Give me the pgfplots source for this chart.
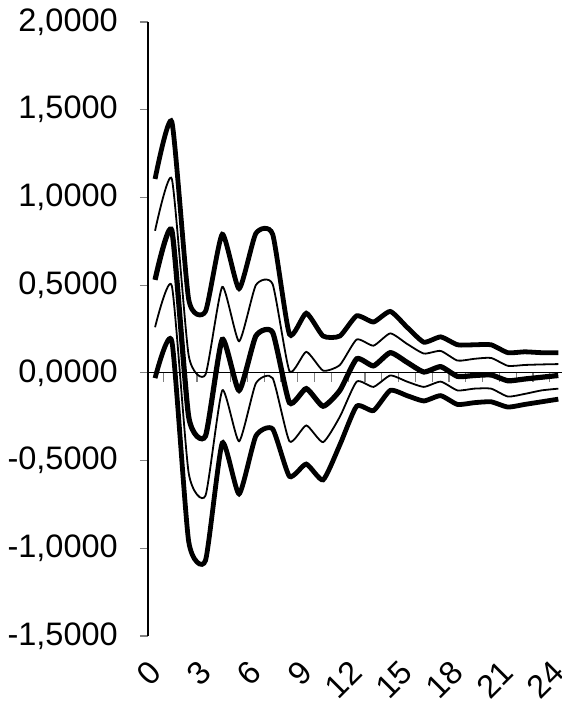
\documentclass[border=0pt]{standalone}
\usepackage{fontspec}
\setmainfont{Liberation Sans}
\usepackage{pgfplots}
\pgfplotsset{compat=1.18}
\pgfplotstableread{
k u2 u1 c l1 l2
0 1.105 0.81 0.53 0.26 -0.03
1 1.43 1.105 0.81 0.495 0.18
2 0.42 0.10 -0.25 -0.57 -0.96
3 0.35 -0.01 -0.36 -0.70 -1.07
4 0.79 0.49 0.19 -0.10 -0.40
5 0.48 0.18 -0.10 -0.39 -0.69
6 0.795 0.50 0.21 -0.06 -0.36
7 0.79 0.505 0.23 -0.03 -0.32
8 0.22 0.01 -0.17 -0.39 -0.59
9 0.34 0.12 -0.09 -0.30 -0.52
10 0.21 0.013 -0.19 -0.395 -0.61
11 0.21 0.045 -0.10 -0.25 -0.41
12 0.325 0.19 0.08 -0.05 -0.19
13 0.29 0.155 0.04 -0.08 -0.215
14 0.35 0.225 0.115 -0.015 -0.10
15 0.26 0.165 0.06 -0.05 -0.13
16 0.175 0.11 0.005 -0.08 -0.16
17 0.205 0.125 0.035 -0.05 -0.13
18 0.16 0.07 -0.02 -0.10 -0.18
19 0.16 0.08 -0.015 -0.09 -0.17
20 0.16 0.085 -0.012 -0.09 -0.165
21 0.115 0.04 -0.045 -0.135 -0.195
22 0.12 0.045 -0.035 -0.12 -0.18
23 0.115 0.048 -0.025 -0.10 -0.165
24 0.115 0.05 -0.015 -0.09 -0.15
}\irf
\pgfplotstableread{
x y
0.5 -0.05
1.5 -0.05
2.5 -0.05
3.5 -0.05
4.5 -0.05
5.5 -0.05
6.5 -0.05
7.5 -0.05
8.5 -0.05
9.5 -0.05
10.5 -0.05
11.5 -0.05
12.5 -0.05
13.5 -0.05
14.5 -0.05
15.5 -0.05
16.5 -0.05
17.5 -0.05
18.5 -0.05
19.5 -0.05
20.5 -0.05
21.5 -0.05
22.5 -0.05
23.5 -0.05
}\xticks
\begin{document}
\begin{tikzpicture}
\useasboundingbox (-148pt,-74pt) rectangle (414pt,636pt);
\begin{axis}[
  at={(0,0)}, anchor=south west,
  scale only axis, width=414.5pt, height=614pt,
  xmin=-0.42, xmax=24.25, ymin=-1.5, ymax=2,
  axis x line*=middle, axis y line=left,
  axis line style={black, line width=1.2pt, -},
  xtick=\empty,
  ytick={-1.5,-1,...,2},
  yticklabels={{-1,5000},{-1,0000},{-0,5000},{0,0000},{0,5000},{1,0000},{1,5000},{2,0000}},
  tick align=outside, major tick length=8pt,
  tick style={gray, line width=1.2pt},
  ticklabel style={font=\fontsize{32.5}{39}\selectfont},
  yticklabel style={anchor=east, inner sep=0pt, xshift=-22pt},
  clip=false,
]
\addplot[gray, line width=1.2pt, ycomb, forget plot] table[x=x, y=y] {\xticks};
\addplot[black, line width=4.8pt, smooth, tension=0.34] table[x=k, y=u2] {\irf};
\addplot[black, line width=1.8pt, smooth, tension=0.34] table[x=k, y=u1] {\irf};
\addplot[black, line width=5.2pt, smooth, tension=0.34] table[x=k, y=c] {\irf};
\addplot[black, line width=1.8pt, smooth, tension=0.34] table[x=k, y=l1] {\irf};
\addplot[black, line width=4.8pt, smooth, tension=0.34] table[x=k, y=l2] {\irf};
\end{axis}
\begin{axis}[
  at={(0,0)}, anchor=south west,
  scale only axis, width=414.5pt, height=614pt,
  xmin=-0.42, xmax=24.25, ymin=-1.5, ymax=2,
  hide y axis,
  axis x line*=bottom, x axis line style={draw=none},
  xtick={0,3,...,24}, xticklabels={0,3,6,9,12,15,18,21,24},
  xtick style={draw=none}, major tick length=0pt,
  xticklabel shift=31pt,
  ticklabel style={font=\fontsize{32.5}{39}\selectfont},
  xticklabel style={rotate=45, anchor=east, inner sep=0pt},
]
\addplot[draw=none] coordinates {(0,0)};
\end{axis}
\end{tikzpicture}
\end{document}
